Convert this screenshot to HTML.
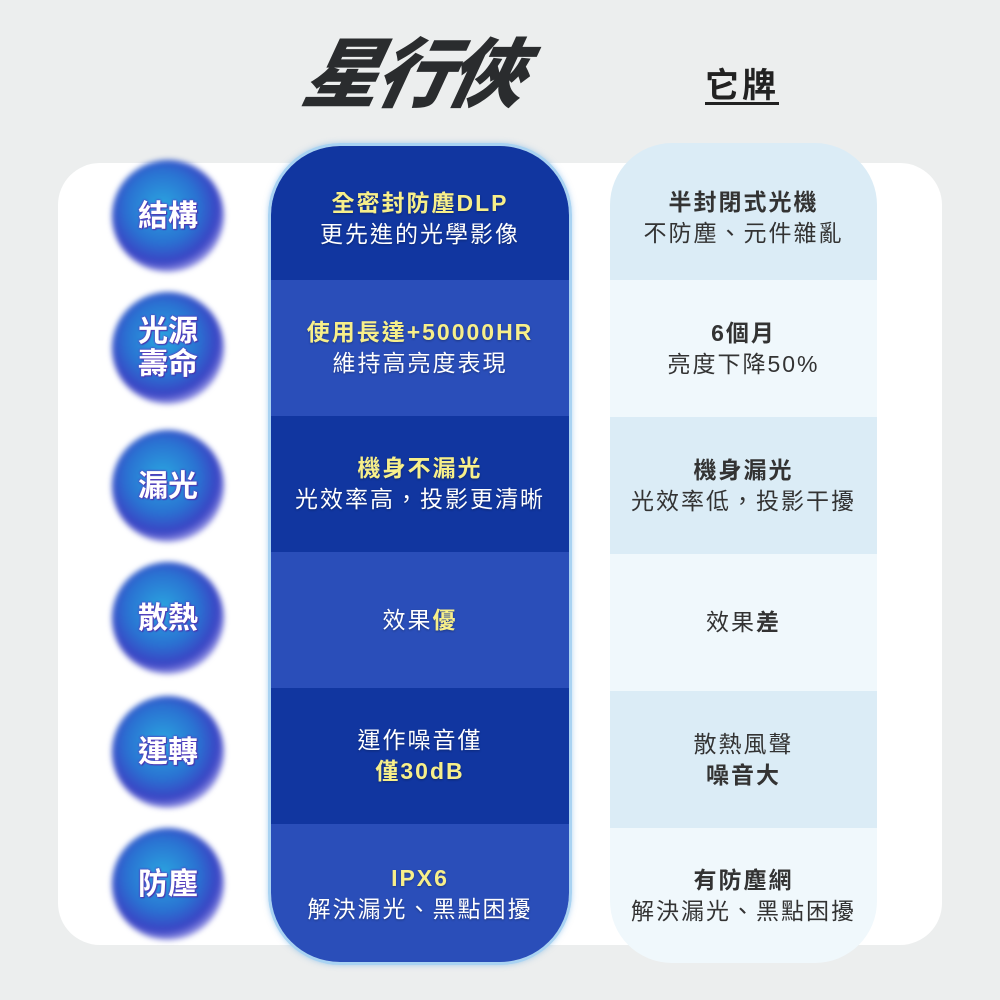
<!DOCTYPE html>
<html><head><meta charset="utf-8"><style>
body{margin:0;width:1000px;height:1000px;background:#eceeee;position:relative;overflow:hidden;font-family:"Liberation Sans","Noto Sans CJK TC",sans-serif}
.panel{position:absolute;left:58px;top:163px;width:884px;height:782px;background:#fff;border-radius:42px}
.blue{position:absolute;left:268px;top:143px;width:298px;height:816px;border:3px solid #a9d3f2;border-radius:72px;overflow:hidden;box-shadow:0 0 6px rgba(100,170,230,.5)}
.brow{height:136px;display:flex;flex-direction:column;justify-content:center;align-items:center;color:#fff;font-size:23px;letter-spacing:2px;line-height:31px;text-shadow:0 1px 2px rgba(0,0,0,.3)}
.d{background:#1136a0}.l{background:#2a4eb9}
.y{color:#f7ef8a;font-weight:bold}
.grey{position:absolute;left:610px;top:143px;width:267px;height:820px;border-radius:62px;overflow:hidden}
.grow{height:137px;display:flex;flex-direction:column;justify-content:center;align-items:center;color:#333;font-size:23px;letter-spacing:2px;line-height:31px}
.g1{background:#dbecf6}.g2{background:#f0f8fc}
.b{font-weight:bold}
.halo{position:absolute;left:112px;width:112px;height:112px;border-radius:50%;background:radial-gradient(circle at 45% 42%,#2aa6e0 0%,#2a72d2 40%,#3a44c4 62%,rgba(110,100,230,.45) 78%,rgba(255,255,255,0) 100%);filter:blur(3px)}
.c{position:absolute;left:118px;width:100px;height:100px;display:flex;align-items:center;justify-content:center;color:#fff;font-weight:bold;font-size:30px;line-height:33px;text-align:center;text-shadow:0 0 2px #5a3fc0,0 0 2px #5a3fc0,1px 1px 1px #4030a0}
</style></head><body>
<div style="position:absolute;left:305px;top:28px;font-size:76px;font-weight:900;font-style:italic;color:#2a2c2e;letter-spacing:-4px;transform:skewX(-12deg);line-height:96px">星行俠</div>
<div style="position:absolute;left:705px;top:58px;font-size:34px;font-weight:bold;color:#222;text-decoration:underline;text-underline-offset:5px;letter-spacing:3px">它牌</div>
<div class="panel"></div>
<div class="blue">
<div class="brow d" style="height:122px;padding-top:12px"><span class="y">全密封防塵DLP</span><span>更先進的光學影像</span></div>
<div class="brow l"><span class="y">使用長達+50000HR</span><span>維持高亮度表現</span></div>
<div class="brow d"><span class="y">機身不漏光</span><span>光效率高，投影更清晰</span></div>
<div class="brow l"><span>效果<span class="y">優</span></span></div>
<div class="brow d"><span>運作噪音僅</span><span class="y">僅30dB</span></div>
<div class="brow l" style="height:140px"><span class="y">IPX6</span><span>解決漏光、黑點困擾</span></div>
</div>
<div class="grey">
<div class="grow g1" style="height:125px;padding-top:12px"><span class="b">半封閉式光機</span><span>不防塵、元件雜亂</span></div>
<div class="grow g2"><span class="b">6個月</span><span>亮度下降50%</span></div>
<div class="grow g1"><span class="b">機身漏光</span><span>光效率低，投影干擾</span></div>
<div class="grow g2"><span>效果<span class="b">差</span></span></div>
<div class="grow g1"><span>散熱風聲</span><span class="b">噪音大</span></div>
<div class="grow g2" style="height:135px"><span class="b">有防塵網</span><span>解決漏光、黑點困擾</span></div>
</div>
<div class="halo" style="top:160px"></div><div class="c" style="top:166px">結構</div>
<div class="halo" style="top:292px"></div><div class="c" style="top:298px">光源<br>壽命</div>
<div class="halo" style="top:430px"></div><div class="c" style="top:436px">漏光</div>
<div class="halo" style="top:562px"></div><div class="c" style="top:568px">散熱</div>
<div class="halo" style="top:696px"></div><div class="c" style="top:702px">運轉</div>
<div class="halo" style="top:828px"></div><div class="c" style="top:834px">防塵</div>
</body></html>
